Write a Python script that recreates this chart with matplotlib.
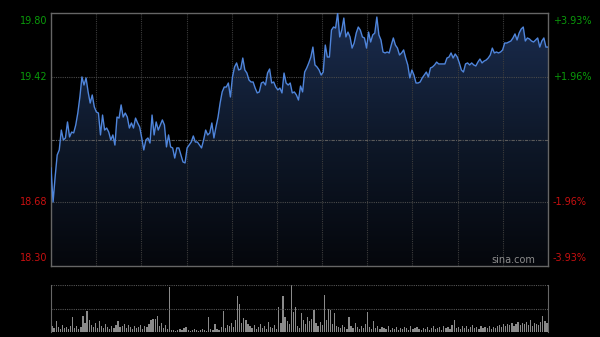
import numpy as np
import matplotlib
matplotlib.use("Agg")
import matplotlib.pyplot as plt
from matplotlib.colors import LinearSegmentedColormap

# intraday prices (one point every ~2 minutes)
prices = [
    18.881, 18.679, 18.828, 18.958, 18.988, 19.106, 19.047, 19.059, 19.154, 19.065,
    19.094, 19.089, 19.136, 19.207, 19.302, 19.421, 19.373, 19.415, 19.332, 19.266,
    19.314, 19.243, 19.213, 19.207, 19.077, 19.195, 19.106, 19.118, 19.094, 19.047,
    19.077, 19.017, 19.183, 19.177, 19.255, 19.183, 19.207, 19.183, 19.118, 19.148,
    19.118, 19.177, 19.148, 19.124, 19.059, 18.988, 19.047, 19.059, 19.029, 19.195,
    19.077, 19.154, 19.106, 19.136, 19.166, 19.136, 19.006, 19.077, 19.006, 19.000,
    18.940, 19.000, 19.000, 18.958, 18.917, 18.911, 19.000, 19.017, 19.035, 19.071,
    19.035, 19.035, 19.017, 19.000, 19.047, 19.106, 19.077, 19.089, 19.148, 19.059,
    19.124, 19.183, 19.266, 19.332, 19.361, 19.361, 19.385, 19.302, 19.421, 19.480,
    19.504, 19.462, 19.468, 19.533, 19.462, 19.444, 19.403, 19.391, 19.391, 19.355,
    19.326, 19.332, 19.385, 19.391, 19.373, 19.444, 19.468, 19.385, 19.391, 19.361,
    19.344, 19.355, 19.326, 19.444, 19.385, 19.373, 19.385, 19.326, 19.332, 19.314,
    19.284, 19.367, 19.332, 19.450, 19.474, 19.504, 19.539, 19.598, 19.492, 19.480,
    19.462, 19.432, 19.450, 19.610, 19.539, 19.539, 19.699, 19.717, 19.711, 19.800,
    19.658, 19.699, 19.770, 19.658, 19.687, 19.658, 19.592, 19.622, 19.681, 19.717,
    19.699, 19.658, 19.652, 19.592, 19.687, 19.628, 19.670, 19.681, 19.776, 19.670,
    19.640, 19.569, 19.563, 19.569, 19.563, 19.610, 19.652, 19.610, 19.592, 19.551,
    19.563, 19.581, 19.533, 19.492, 19.415, 19.462, 19.432, 19.385, 19.385, 19.391,
    19.415, 19.432, 19.450, 19.421, 19.474, 19.480, 19.492, 19.509, 19.498, 19.498,
    19.498, 19.498, 19.533, 19.539, 19.563, 19.533, 19.557, 19.539, 19.504, 19.462,
    19.450, 19.498, 19.504, 19.492, 19.504, 19.492, 19.486, 19.509, 19.527, 19.504,
    19.515, 19.521, 19.533, 19.551, 19.592, 19.563, 19.569, 19.563, 19.569, 19.581,
    19.622, 19.622, 19.628, 19.634, 19.652, 19.676, 19.640, 19.681, 19.705, 19.717,
    19.634, 19.652, 19.646, 19.634, 19.628, 19.640, 19.652, 19.598, 19.634, 19.652,
    19.598, 19.598,
]

# per-minute volume (relative units)
volumes = [
    6, 4, 11, 5, 3, 7, 4, 5, 3, 6,
    15, 4, 6, 3, 5, 16, 9, 21, 12, 7,
    5, 9, 4, 11, 6, 4, 8, 5, 3, 6,
    4, 7, 11, 5, 6, 8, 4, 7, 5, 3,
    6, 4, 5, 7, 3, 6, 5, 8, 12, 13,
    13, 16, 6, 9, 4, 7, 3, 45, 2, 2,
    1, 2, 3, 2, 4, 5, 2, 1, 2, 3,
    2, 1, 2, 3, 2, 1, 15, 3, 2, 8,
    3, 2, 5, 21, 4, 7, 6, 9, 5, 12,
    36, 28, 9, 14, 12, 8, 6, 4, 7, 3,
    5, 8, 4, 6, 3, 10, 5, 4, 7, 3,
    25, 9, 36, 15, 11, 8, 47, 20, 25, 6,
    4, 19, 12, 8, 15, 11, 13, 22, 9, 6,
    10, 7, 37, 12, 23, 22, 8, 19, 6, 5,
    4, 7, 5, 3, 15, 6, 4, 9, 5, 3,
    6, 4, 8, 20, 5, 3, 11, 4, 6, 3,
    5, 4, 3, 6, 2, 4, 3, 5, 2, 4,
    3, 5, 4, 2, 6, 3, 4, 5, 3, 2,
    4, 3, 5, 2, 4, 6, 3, 4, 5, 2,
    6, 4, 5, 3, 7, 12, 4, 5, 3, 6,
    4, 6, 3, 5, 7, 4, 5, 3, 6, 4,
    5, 4, 6, 3, 5, 4, 6, 7, 5, 8,
    6, 8, 7, 9, 6, 8, 10, 7, 9, 8,
    10, 7, 12, 6, 9, 8, 7, 10, 16, 11,
    9,
]

prev_close = 19.05
y_low, y_high = 18.30, 19.80
left_ticks = [19.80, 19.42, 18.68, 18.30]
right_labels = ["+3.93%", "+1.96%", "-1.96%", "-3.93%"]
tick_colors = ["#0a9a0a", "#0a9a0a", "#c81010", "#c81010"]

fig = plt.figure(figsize=(6, 3.37), dpi=100, facecolor="black")
ax = fig.add_axes([51 / 600, 1 - 266 / 337, 497 / 600, 253 / 337])
axv = fig.add_axes([51 / 600, 1 - 332 / 337, 497 / 600, 47 / 337])

x = np.arange(len(prices))
x_max = len(prices) - 1

ax.set_facecolor("black")
ax.set_xlim(0, x_max)
ax.set_ylim(y_low, y_high)

# gradient fill under the price line
cmap = LinearSegmentedColormap.from_list("fill", ["#05070c", "#0e1829", "#1a2c4e"])
grad = np.linspace(0, 1, 256).reshape(-1, 1)
img = ax.imshow(grad, cmap=cmap, aspect="auto", origin="lower",
                extent=[0, x_max, y_low, y_high], zorder=1)
poly = ax.fill_between(x, prices, y_low, color="none", lw=0)
clip = poly.get_paths()[0]
img.set_clip_path(clip, transform=ax.transData)

ax.plot(x, prices, color="#4f85db", lw=1.0, zorder=3)

# grid
for k in range(1, 11):
    ax.axvline(x_max * k / 11, color="#3c3c3c", lw=0.8, ls=(0, (1, 1)), zorder=2)
for v in [19.42, 18.68]:
    ax.axhline(v, color="#4a4a4a", lw=0.8, ls=(0, (1, 1)), zorder=2)
ax.axhline(prev_close, color="#5a5a5a", lw=0.8, ls=(0, (3, 1, 1, 1)), zorder=2)

for s in ax.spines.values():
    s.set_color("#666666")
    s.set_linewidth(1)
ax.set_xticks([])
ax.set_yticks([])

# price / percent labels
vas = ["top", "center", "center", "bottom"]
offs = [-0.02, 0, 0, 0.02]
for v, lab, c, va, o in zip(left_ticks, right_labels, tick_colors, vas, offs):
    ax.text(-0.007, v + o, f"{v:.2f}", transform=ax.get_yaxis_transform(),
            ha="right", va=va, color=c, fontsize=7)
    ax.text(1.01, v + o, lab, transform=ax.get_yaxis_transform(),
            ha="left", va=va, color=c, fontsize=7)

ax.text(0.975, 0.005, "sina.com", transform=ax.transAxes, ha="right", va="bottom",
        color="#8c8c8c", fontsize=7, zorder=4)

# volume panel
axv.set_facecolor("black")
xv = np.arange(len(volumes))
axv.bar(xv, volumes, width=0.6, color="#8a8a8a", lw=0)
axv.set_xlim(-0.5, len(volumes) - 0.5)
axv.set_ylim(0, max(volumes))
axv.axhline(max(volumes), color="#555555", lw=0.8, ls=(0, (1, 1)))
axv.axhline(max(volumes) / 2, color="#555555", lw=0.8, ls=(0, (1, 1)))
for side in ["top", "bottom"]:
    axv.spines[side].set_visible(False)
for side in ["left", "right"]:
    axv.spines[side].set_color("#666666")
axv.set_xticks([])
axv.set_yticks([])

fig.savefig("out.png", dpi=100, facecolor="black")
